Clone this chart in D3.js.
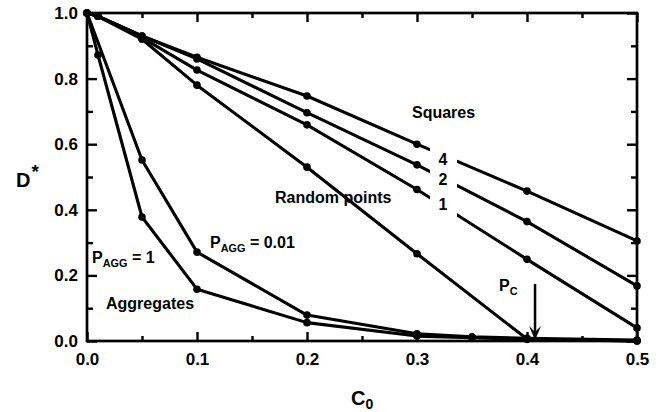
<!DOCTYPE html>
<html>
<head>
<meta charset="utf-8">
<script src="https://cdn.jsdelivr.net/npm/d3@7"></script>
<style>
  body { margin: 0; background: #fff; }
  svg text { font-family: "Liberation Sans", Arial, Helvetica, sans-serif; font-weight: bold; fill: #000; }
</style>
</head>
<body>
<div id="chart"></div>
<script>
	// values
	var cSquares = [0, 0.01, 0.05, 0.1, 0.2, 0.3, 0.4, 0.5];
	var squares4 = [1, 0.99, 0.93, 0.865, 0.747, 0.600, 0.457, 0.305];
	var squares2 = [1, 0.99, 0.93, 0.86, 0.696, 0.537, 0.364, 0.168];
	var squares1 = [1, 0.99, 0.925, 0.826, 0.659, 0.462, 0.249, 0.04];

	var cRandom = [0, 0.01, 0.05, 0.1, 0.2, 0.3, 0.4, 0.5];
	var randomPts = [1, 0.99, 0.92, 0.78, 0.53, 0.266, 0.006, 0.0];

	var cAgg001 = [0, 0.05, 0.1, 0.2, 0.3, 0.35, 0.4, 0.5];
	var pAgg001 = [1, 0.552, 0.271, 0.079, 0.022, 0.013, 0.008, 0.003];
	var cAgg1 = [0, 0.01, 0.05, 0.1, 0.2, 0.3, 0.35, 0.4, 0.5];
	var pAgg1 = [1, 0.872, 0.378, 0.158, 0.056, 0.015, 0.01, 0.005, 0.0];

	var pc = 0.4073;

	var xMajor = [0, 0.1, 0.2, 0.3, 0.4, 0.5],
		xMinor = [0.05, 0.15, 0.25, 0.35, 0.45],
		yMajor = [0, 0.2, 0.4, 0.6, 0.8, 1.0],
		yMinor = [0.1, 0.3, 0.5, 0.7, 0.9];

	// set margins
	var margin = { left: 87, right: 23, top: 13, bottom: 71 },
		width = 660 - margin.left - margin.right,
		height = 412 - margin.top - margin.bottom;

	var svg = d3.select("#chart")
		.append("svg")
			.attr("width", 660)
			.attr("height", 412)
		.append("g")
			.attr("transform", "translate(" + margin.left + "," + margin.top + ")");

	var x = d3.scaleLinear().domain([0, 0.5]).range([0, width]);
	var y = d3.scaleLinear().domain([0, 1]).range([height, 0]);

	function zip(xs, ys) { return xs.map(function(c, i) { return [c, ys[i]]; }); }

	var series = [
		zip(cSquares, squares4),
		zip(cSquares, squares2),
		zip(cSquares, squares1),
		zip(cRandom, randomPts),
		zip(cAgg001, pAgg001),
		zip(cAgg1, pAgg1)
	];

	var line = d3.line()
		.x(function(d) { return x(d[0]); })
		.y(function(d) { return y(d[1]); });

	svg.selectAll(".series")
		.data(series)
		.enter().append("path")
			.attr("class", "series")
			.attr("d", line)
			.attr("fill", "none")
			.attr("stroke", "#000")
			.attr("stroke-width", 3.1)
			.attr("stroke-linejoin", "round");

	series.forEach(function(s) {
		svg.selectAll(null)
			.data(s)
			.enter().append("circle")
				.attr("cx", function(d) { return x(d[0]); })
				.attr("cy", function(d) { return y(d[1]); })
				.attr("r", 3.8)
				.attr("fill", "#000");
	});

	// gaps in the square lines behind the 4 / 2 / 1 labels
	var numLabels = [
		{ t: "4", y0: 133, y1: 155, by: 152 },
		{ t: "2", y0: 153, y1: 179, by: 172 },
		{ t: "1", y0: 179, y1: 206, by: 197 }
	];
	numLabels.forEach(function(l) {
		svg.append("rect")
			.attr("x", 343).attr("y", l.y0)
			.attr("width", 27).attr("height", l.y1 - l.y0)
			.attr("fill", "#fff");
		svg.append("text")
			.attr("x", 356).attr("y", l.by)
			.attr("text-anchor", "middle")
			.attr("font-size", "16px")
			.text(l.t);
	});

	// annotations
	function label(px, py, size, main, sub, rest) {
		var t = svg.append("text")
			.attr("x", px).attr("y", py)
			.attr("font-size", size + "px");
		t.append("tspan").text(main);
		if (sub) {
			t.append("tspan").attr("dy", 4).attr("font-size", (size * 0.68) + "px").text(sub);
			if (rest) t.append("tspan").attr("dy", -4).text(rest);
		}
		return t;
	}
	label(325, 105, 16, "Squares");
	label(188, 190, 16, "Random points");
	label(123, 235, 16, "P", "AGG", " = 0.01");
	label(5, 250, 16, "P", "AGG", " = 1");
	label(19, 296, 16, "Aggregates");
	label(412, 278, 16, "P", "C");

	// p_c arrow
	var ax = x(pc);
	svg.append("line")
		.attr("x1", ax).attr("x2", ax)
		.attr("y1", 271).attr("y2", height - 8)
		.attr("stroke", "#000").attr("stroke-width", 2.5);
	svg.append("path")
		.attr("d", "M" + (ax - 6) + "," + (height - 15) + "L" + ax + "," + (height - 1) +
			"L" + (ax + 6) + "," + (height - 15) + "L" + ax + "," + (height - 9) + "Z")
		.attr("fill", "#000");

	// frame
	svg.append("rect")
		.attr("width", width).attr("height", height)
		.attr("fill", "none").attr("stroke", "#000").attr("stroke-width", 2.7);

	function styleAxis(g) {
		g.select(".domain").remove();
		g.selectAll(".tick line").attr("stroke", "#000").attr("stroke-width", 2.4);
		g.selectAll("text").attr("font-size", "17px").attr("font-family", null).attr("fill", "#000");
		g.attr("font-family", null).attr("font-size", null);
	}

	var fmt = d3.format(".1f");

	svg.append("g").attr("transform", "translate(0," + height + ")")
		.call(d3.axisBottom(x).tickValues(xMajor).tickSizeInner(-9).tickSizeOuter(0).tickPadding(12).tickFormat(fmt))
		.call(styleAxis);
	svg.append("g").attr("transform", "translate(0," + height + ")")
		.call(d3.axisBottom(x).tickValues(xMinor).tickSizeInner(-5).tickSizeOuter(0).tickFormat(""))
		.call(styleAxis);
	svg.append("g")
		.call(d3.axisTop(x).tickValues(xMajor).tickSizeInner(-9).tickSizeOuter(0).tickFormat(""))
		.call(styleAxis);
	svg.append("g")
		.call(d3.axisTop(x).tickValues(xMinor).tickSizeInner(-5).tickSizeOuter(0).tickFormat(""))
		.call(styleAxis);

	svg.append("g")
		.call(d3.axisLeft(y).tickValues(yMajor).tickSizeInner(-10).tickSizeOuter(0).tickPadding(9).tickFormat(fmt))
		.call(styleAxis);
	svg.append("g")
		.call(d3.axisLeft(y).tickValues(yMinor).tickSizeInner(-6).tickSizeOuter(0).tickFormat(""))
		.call(styleAxis);
	svg.append("g").attr("transform", "translate(" + width + ",0)")
		.call(d3.axisRight(y).tickValues(yMajor).tickSizeInner(-10).tickSizeOuter(0).tickFormat(""))
		.call(styleAxis);
	svg.append("g").attr("transform", "translate(" + width + ",0)")
		.call(d3.axisRight(y).tickValues(yMinor).tickSizeInner(-6).tickSizeOuter(0).tickFormat(""))
		.call(styleAxis);

	// axis titles
	var yt = svg.append("text").attr("x", -71).attr("y", 174).attr("font-size", "20px");
	yt.append("tspan").text("D");
	yt.append("tspan").attr("dx", 1).attr("dy", -9).attr("font-size", "19px").text("*");

	var xt = svg.append("text").attr("x", 264).attr("y", 392).attr("font-size", "20px");
	xt.append("tspan").text("C");
	xt.append("tspan").attr("dy", 4).attr("font-size", "14px").text("0");
</script>
</body>
</html>
